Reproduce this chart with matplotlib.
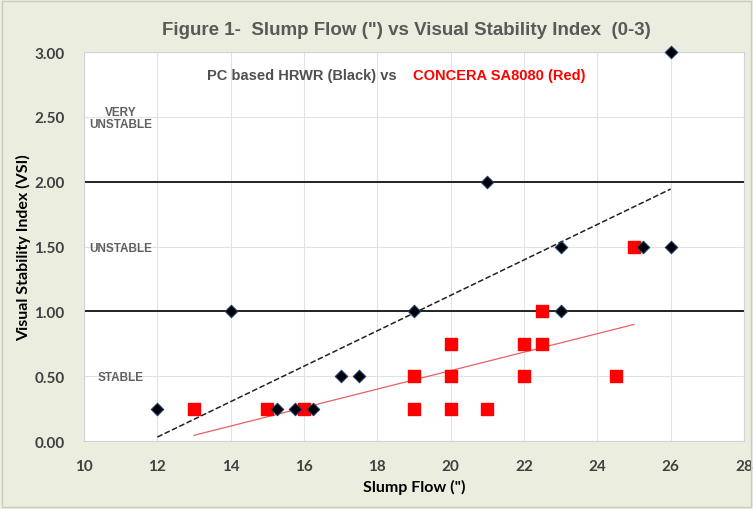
import matplotlib.pyplot as plt
import numpy as np

# PC based HRWR (black diamonds)
pc_flow = [12, 14, 15.25, 15.75, 16.25, 17, 17.5, 19, 21, 23, 23, 25.25, 26, 26]
pc_vsi = [0.25, 1.0, 0.25, 0.25, 0.25, 0.5, 0.5, 1.0, 2.0, 1.5, 1.0, 1.5, 1.5, 3.0]

# CONCERA SA8080 (red squares)
sa_flow = [13, 15, 16, 19, 19, 20, 20, 20, 21, 22, 22, 22.5, 22.5, 24.5, 25]
sa_vsi = [0.25, 0.25, 0.25, 0.5, 0.25, 0.75, 0.5, 0.25, 0.25, 0.75, 0.5, 1.0, 0.75, 0.5, 1.5]

zone_lines = [1.0, 2.0]
zone_labels = [("VERY\nUNSTABLE", 2.49), ("UNSTABLE", 1.49), ("STABLE", 0.49)]

BG = "#ebeedf"
plt.rcParams["font.family"] = ["Liberation Sans", "DejaVu Sans"]
AXFONT = ["Lato", "DejaVu Sans"]

fig = plt.figure(figsize=(7.53, 5.10), dpi=100, facecolor=BG)
ax = fig.add_axes([0.1116, 0.1333, 0.8764, 0.7627])
ax.set_facecolor("white")

ax.set_xlim(10, 28)
ax.set_ylim(0, 3)
ax.set_xticks(np.arange(10, 29, 2))
ax.set_yticks(np.arange(0, 3.01, 0.5))
ax.set_yticklabels([f"{v:.2f}" for v in np.arange(0, 3.01, 0.5)])
ax.grid(True, color="#e2e2e2", linewidth=0.8)
ax.set_axisbelow(True)
for s in ax.spines.values():
    s.set_color("#d0d4d8")
ax.tick_params(axis="x", length=0, pad=13)
ax.tick_params(axis="y", length=0, pad=14)
for lab in ax.get_xticklabels() + ax.get_yticklabels():
    lab.set_fontweight("bold")
    lab.set_color("#404040")
    lab.set_family(AXFONT)
    lab.set_fontsize(11)

for y in zone_lines:
    ax.axhline(y, color="#222222", linewidth=1.4, zorder=2)

# trendlines
for xs, ys, style, col, lw in [(pc_flow, pc_vsi, "--", "#222222", 1.1),
                               (sa_flow, sa_vsi, "-", "#e86060", 0.9)]:
    k, b = np.polyfit(xs, ys, 1)
    xx = np.array([min(xs), max(xs)])
    ax.plot(xx, k * xx + b, linestyle=style, color=col, linewidth=lw, zorder=3)

ax.scatter(sa_flow, sa_vsi, marker="s", s=70, color="#ff0000", zorder=4)
ax.scatter(pc_flow, pc_vsi, marker="D", s=40, color="black", edgecolor="#1f3b70",
           linewidth=0.8, zorder=5, clip_on=False)

for txt, y in zone_labels:
    ax.text(11.0, y, txt, ha="center", va="center", multialignment="center",
            fontsize=8.5, fontweight="bold", color="#606060", linespacing=1.0)

ax.text(13.36, 2.82, "PC based HRWR (Black) vs  ", fontsize=10.5, fontweight="bold",
        color="#505050", va="center")
ax.text(18.96, 2.82, "CONCERA SA8080 (Red)", fontsize=10.5, fontweight="bold",
        color="#ff0000", va="center")

fig.text(0.54, 0.94, "Figure 1-  Slump Flow (\") vs Visual Stability Index  (0-3)",
         ha="center", va="center", fontsize=13.5, fontweight="bold", color="#595959")
ax.set_xlabel("Slump Flow (\")", fontsize=11.5, fontweight="bold", labelpad=4,
              family=AXFONT)
ax.set_ylabel("Visual Stability Index (VSI)", fontsize=11.5, fontweight="bold",
              labelpad=2, family=AXFONT)

fig.patches.append(plt.Rectangle((0.003, 0.003), 0.994, 0.994, transform=fig.transFigure,
                                 fill=False, edgecolor="#c8ccc0", linewidth=1))

fig.savefig("out.png", dpi=100, facecolor=BG)
